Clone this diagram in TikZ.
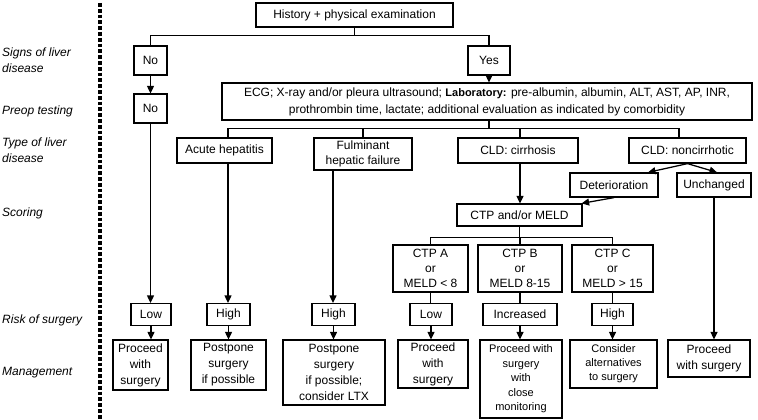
\documentclass[tikz,border=0pt]{standalone}
\usepackage{fontspec}
\setmainfont{Liberation Sans}
\usetikzlibrary{arrows.meta}
\newcommand{\fa}{\fontsize{12}{15}\selectfont}
\begin{document}
\begin{tikzpicture}[x=1pt,y=-1pt,
  box/.style={draw, line width=1.25pt, inner sep=0pt, align=center, font=\fa},
  lbl/.style={anchor=west, align=left, inner sep=0pt, font=\fontsize{12}{16}\selectfont\itshape},
  ln/.style={line width=1.25pt},
  arr/.style={line width=1.25pt, -{Triangle[length=7.5pt,width=7pt]}}]
\useasboundingbox (0,0) rectangle (758,420);
% side labels
\node[lbl] (l1) at (2,60) {Signs of liver\\disease};
\node[lbl] (l2) at (2,111) {Preop testing};
\node[lbl] (l3) at (2,150) {Type of liver\\disease};
\node[lbl] (l4) at (2,213) {Scoring};
\node[lbl] (l5) at (2,320) {Risk of surgery};
\node[lbl] (l6) at (2,373) {Management};
\draw[line width=3.8pt, dash pattern=on 3.8pt off 2pt] (100,3) -- (100,420);
% boxes
\node[box, minimum width=197, minimum height=24] (hist) at (354.5,15) {History + physical examination};
\node[box, minimum width=33, minimum height=29] (no1) at (150.5,60.5) {No};
\node[box, minimum width=42, minimum height=29] (yes) at (489,60.5) {Yes};
\node[box, minimum width=33, minimum height=29] (no2) at (150.5,108.5) {No};
\node[box, minimum width=530, minimum height=37, font=\fontsize{12}{17}\selectfont] (ecg) at (487,101.5)
  {ECG; X-ray and/or pleura ultrasound; {\fontsize{11}{17}\selectfont\bfseries Laboratory:} pre-albumin, albumin, ALT, AST, AP, INR,\\
   prothrombin time, lactate; additional evaluation as indicated by comorbidity};
\node[box, minimum width=95, minimum height=25] (acute) at (224.5,150.5) {Acute hepatitis};
\node[box, minimum width=98, minimum height=32] (ful) at (363,154) {Fulminant\\hepatic failure};
\node[box, minimum width=120, minimum height=25] (cirr) at (518,150.5) {CLD: cirrhosis};
\node[box, minimum width=117, minimum height=25] (nonc) at (687.5,150.5) {CLD: noncirrhotic};
\node[box, minimum width=88, minimum height=24] (det) at (614,185) {Deterioration};
\node[box, minimum width=74, minimum height=24] (unch) at (714,185) {Unchanged};
\node[box, minimum width=125, minimum height=22] (ctp) at (519.5,215) {CTP and/or MELD};
\node[box, minimum width=75, minimum height=47] (ctpa) at (430.5,268.5) {CTP A\\or\\MELD < 8};
\node[box, minimum width=84, minimum height=47] (ctpb) at (520,268.5) {CTP B\\or\\MELD 8-15};
\node[box, minimum width=81, minimum height=47] (ctpc) at (612.5,268.5) {CTP C\\or\\MELD > 15};
% risk row
\node[box, minimum width=40, minimum height=22] (r1) at (151,314.5) {Low};
\node[box, minimum width=43, minimum height=22] (r2) at (228.5,314.5) {High};
\node[box, minimum width=43, minimum height=22] (r3) at (333.5,314.5) {High};
\node[box, minimum width=42, minimum height=22] (r4) at (431,314.5) {Low};
\node[box, minimum width=74, minimum height=22] (r5) at (520,314.5) {Increased};
\node[box, minimum width=41, minimum height=22] (r6) at (612.5,314.5) {High};
% management row
\node[box, minimum width=55, minimum height=50, font=\fontsize{12}{16}\selectfont] (m1) at (140.5,365) {Proceed\\with\\surgery};
\node[box, minimum width=75, minimum height=50, font=\fontsize{12}{16}\selectfont] (m2) at (228.5,365) {Postpone\\surgery\\if possible};
\node[box, minimum width=102, minimum height=65, font=\fontsize{12}{16}\selectfont] (m3) at (334,372.5) {Postpone\\surgery\\if possible;\\consider LTX};
\node[box, minimum width=70, minimum height=48, font=\fontsize{12}{16}\selectfont] (m4) at (433,364) {Proceed\\with\\surgery};
\node[box, minimum width=82, minimum height=78, font=\fontsize{11}{14.5}\selectfont] (m5) at (521,379) {Proceed with\\surgery\\with\\close\\monitoring};
\node[box, minimum width=87, minimum height=48, font=\fontsize{11}{14}\selectfont] (m6) at (613.5,364) {Consider\\alternatives\\to surgery};
\node[box, minimum width=82, minimum height=37, font=\fontsize{12}{16}\selectfont] (m7) at (709,358.5) {Proceed\\with surgery};
% connectors
\draw[ln] (hist.south) -- ++(0,8) coordinate (hb) -| (no1.north);
\draw[ln] (hb) -| (yes.north);
\draw[arr] (no1) -- (no2);
\draw[arr] (yes.south) -- (yes.south |- ecg.north);
\draw[ln] (yes.south |- ecg.south) -- ++(0,8) coordinate (eb);
\draw[ln] (eb) -| ([xshift=3.5pt]acute.north);
\draw[ln] (eb) -| (ful.north);
\draw[ln] (eb) -| ([xshift=2pt]cirr.north);
\draw[ln] (eb) -| ([xshift=-8.5pt]nonc.north);
\draw[arr] (no2.south) -- (no2.south |- r1.north);
\draw[arr] ([xshift=3.5pt]acute.south) -- ([xshift=3.5pt]acute.south |- r2.north);
\draw[arr] ([xshift=-30pt]ful.south) -- ([xshift=-30pt]ful.south |- r3.north);
\draw[arr] ([xshift=2pt]cirr.south) -- ([xshift=2pt]cirr.south |- ctp.north);
\draw[arr] (nonc.south) -- ([xshift=34pt]det.north);
\draw[arr] (nonc.south) -- ([xshift=3pt]unch.north);
\draw[arr] (det.south) -- ([xshift=-1pt]ctp.north east);
\draw[arr] (unch.south) -- (unch.south |- m7.north);
\draw[ln] (ctp.south) -- ++(0,11) coordinate (cb);
\draw[ln] (cb) -| (ctpa.north);
\draw[ln] (cb) -| (ctpb.north);
\draw[ln] (cb) -| (ctpc.north);
\draw[ln] (ctpa.south) -- (ctpa.south |- r4.north);
\draw[ln] (ctpb.south) -- (ctpb.south |- r5.north);
\draw[ln] (ctpc.south) -- (ctpc.south |- r6.north);
\draw[arr] (r1.south) -- (r1.south |- m1.north);
\draw[arr] (r2.south) -- (r2.south |- m2.north);
\draw[arr] (r3.south) -- (r3.south |- m3.north);
\draw[arr] (r4.south) -- (r4.south |- m4.north);
\draw[arr] (r5.south) -- (r5.south |- m5.north);
\draw[arr] (r6.south) -- (r6.south |- m6.north);
\end{tikzpicture}
\end{document}
